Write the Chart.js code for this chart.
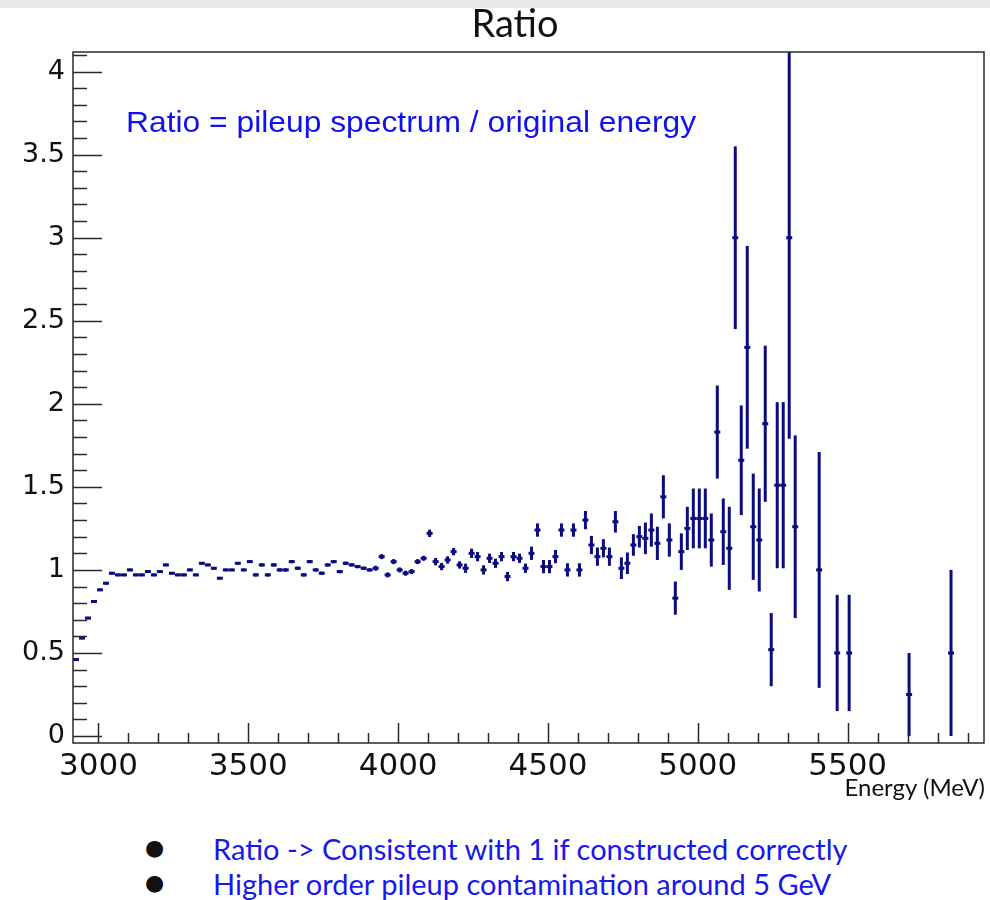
<!DOCTYPE html>
<html>
<head>
<meta charset="utf-8">
<script src="https://cdn.jsdelivr.net/npm/chart.js@4"></script>
<style>
  body { margin: 0; width: 990px; height: 900px; background: #fff; position: relative; overflow: hidden; font-family: Lato, sans-serif; }
  #topbar { position: absolute; left: 0; top: 0; width: 990px; height: 8px; background: #e8eaed; }
  #title { position: absolute; left: 0; width: 1030px; top: -1px; text-align: center; font-size: 38px; color: #111; }
  #wrap { position: absolute; left: 0; top: 0; width: 990px; height: 800px; }
  #note { position: absolute; left: 126px; top: 105px; font-family: "Liberation Sans", Arial, sans-serif; font-size: 30px; color: #1010f0; transform: scaleX(1.06); transform-origin: left top; white-space: nowrap; }
  #xlabel { position: absolute; right: 5px; top: 772px; font-size: 24px; color: #111; }
  .row { position: absolute; left: 0; font-size: 29px; color: #1818ec; white-space: nowrap; }
  .row .dot { position: absolute; left: 145px; top: -1px; font-family: "DejaVu Sans", sans-serif; font-size: 22px; line-height: 36px; color: #111; }
  .row .txt { position: absolute; left: 213px; }
</style>
</head>
<body>
<div id="topbar"></div>
<div id="wrap"><canvas id="ratio-chart" width="990" height="800"></canvas></div>
<div id="title">Ratio</div>
<div id="note">Ratio = pileup spectrum / original energy</div>
<div id="xlabel">Energy (MeV)</div>
<div class="row" style="top:831px"><span class="dot">●</span><span class="txt">Ratio -&gt; Consistent with 1 if constructed correctly</span></div>
<div class="row" style="top:866px"><span class="dot">●</span><span class="txt">Higher order pileup contamination around 5 GeV</span></div>
<script>
// bin centres (MeV), 20 MeV bins; empty bins left out
const energy = [
  2925, 2945, 2965, 2985, 3005, 3025, 3045, 3065, 3085, 3105,
  3125, 3145, 3165, 3185, 3205, 3225, 3245, 3265, 3285, 3305,
  3325, 3345, 3365, 3385, 3405, 3425, 3445, 3465, 3485, 3505,
  3525, 3545, 3565, 3585, 3605, 3625, 3645, 3665, 3685, 3705,
  3725, 3745, 3765, 3785, 3805, 3825, 3845, 3865, 3885, 3905,
  3925, 3945, 3965, 3985, 4005, 4025, 4045, 4065, 4085, 4105,
  4125, 4145, 4165, 4185, 4205, 4225, 4245, 4265, 4285, 4305,
  4325, 4345, 4365, 4385, 4405, 4425, 4445, 4465, 4485, 4505,
  4525, 4545, 4565, 4585, 4605, 4625, 4645, 4665, 4685, 4705,
  4725, 4745, 4765, 4785, 4805, 4825, 4845, 4865, 4885, 4905,
  4925, 4945, 4965, 4985, 5005, 5025, 5045, 5065, 5085, 5105,
  5125, 5145, 5165, 5185, 5205, 5225, 5245, 5265, 5285, 5305, 5325,
  5405, 5465, 5505, 5705, 5845
];
const ratio = [
  0.46, 0.59, 0.71, 0.81, 0.88, 0.92, 0.98, 0.97, 0.97, 1.00,
  0.97, 0.97, 0.99, 0.97, 0.99, 1.03, 0.98, 0.97, 0.97, 1.00,
  0.97, 1.04, 1.03, 1.01, 0.95, 1.00, 1.00, 1.04, 1.00, 1.05,
  0.97, 1.03, 0.97, 1.03, 1.00, 1.00, 1.05, 1.01, 0.97, 1.05,
  1.00, 0.98, 1.03, 1.05, 0.99, 1.04, 1.03, 1.02, 1.01, 1.00,
  1.01, 1.08, 0.97, 1.05, 1.00, 0.98, 0.99, 1.05, 1.07, 1.22,
  1.05, 1.02, 1.06, 1.11, 1.03, 1.01, 1.10, 1.08, 1.00, 1.07,
  1.04, 1.08, 0.96, 1.08, 1.07, 1.01, 1.10, 1.24, 1.02, 1.02,
  1.08, 1.24, 1.00, 1.24, 1.00, 1.30, 1.15, 1.08, 1.13, 1.08,
  1.29, 1.01, 1.04, 1.15, 1.20, 1.19, 1.24, 1.16, 1.44, 1.18,
  0.83, 1.11, 1.25, 1.31, 1.31, 1.31, 1.18, 1.83, 1.23, 1.13,
  3.00, 1.66, 2.34, 1.26, 1.18, 1.88, 0.52, 1.51, 1.51, 3.00, 1.26,
  1.00, 0.50, 0.50, 0.25, 0.50
];
const ratioErr = [
  0.008, 0.008, 0.008, 0.008, 0.008, 0.008, 0.008, 0.008, 0.008, 0.008,
  0.008, 0.008, 0.008, 0.008, 0.008, 0.008, 0.008, 0.008, 0.008, 0.008,
  0.008, 0.008, 0.008, 0.008, 0.008, 0.008, 0.008, 0.008, 0.008, 0.008,
  0.010, 0.010, 0.010, 0.010, 0.010, 0.010, 0.010, 0.010, 0.010, 0.010,
  0.010, 0.010, 0.010, 0.010, 0.010, 0.010, 0.010, 0.010, 0.010, 0.010,
  0.015, 0.015, 0.015, 0.015, 0.015, 0.015, 0.015, 0.015, 0.015, 0.022,
  0.022, 0.022, 0.022, 0.022, 0.022, 0.028, 0.028, 0.028, 0.028, 0.028,
  0.028, 0.028, 0.028, 0.028, 0.028, 0.028, 0.040, 0.040, 0.040, 0.040,
  0.040, 0.040, 0.040, 0.040, 0.040, 0.055, 0.055, 0.055, 0.055, 0.055,
  0.065, 0.065, 0.065, 0.065, 0.065, 0.095, 0.10, 0.10, 0.13, 0.10,
  0.10, 0.11, 0.13, 0.18, 0.18, 0.18, 0.16, 0.28, 0.20, 0.25,
  0.55, 0.33, 0.61, 0.32, 0.31, 0.47, 0.22, 0.50, 0.50, 1.21, 0.55,
  0.71, 0.35, 0.35, 0.25, 0.50
];
const xTickLabels = [3000, 3500, 4000, 4500, 5000, 5500];
const yTickLabels = [0, 0.5, 1, 1.5, 2, 2.5, 3, 3.5, 4];

const MARK = '#0c0c7e';
const FRAME = '#2a2a2a';

// vertical error bars, drawn under the bin markers
const errorBars = {
  id: 'errorBars',
  beforeDatasetsDraw(chart) {
    const { ctx, chartArea: a, scales: { x, y } } = chart;
    ctx.save();
    ctx.beginPath();
    ctx.rect(a.left, a.top, a.right - a.left, a.bottom - a.top);
    ctx.clip();
    ctx.strokeStyle = MARK;
    ctx.lineWidth = 3;
    energy.forEach((e, i) => {
      const px = x.getPixelForValue(e);
      ctx.beginPath();
      ctx.moveTo(px, y.getPixelForValue(ratio[i] - ratioErr[i]));
      ctx.lineTo(px, y.getPixelForValue(ratio[i] + ratioErr[i]));
      ctx.stroke();
    });
    ctx.restore();
  }
};

// ROOT style frame with inward ticks
const rootFrame = {
  id: 'rootFrame',
  afterDraw(chart) {
    const { ctx, chartArea: a, scales: { x, y } } = chart;
    ctx.save();
    ctx.strokeStyle = FRAME;
    ctx.lineWidth = 1.5;
    ctx.strokeRect(a.left, a.top, a.right - a.left, a.bottom - a.top);
    ctx.beginPath();
    for (let i = 0; i <= 41; i++) {
      const py = Math.round(y.getPixelForValue(i / 10)) + 0.5;
      const len = i % 5 == 0 ? 29 : 14;
      ctx.moveTo(a.left, py);
      ctx.lineTo(a.left + len, py);
    }
    for (let e = 3000; e <= 5900; e += 100) {
      const px = Math.round(x.getPixelForValue(e)) + 0.5;
      const len = e % 500 == 0 ? 20 : 10;
      ctx.moveTo(px, a.bottom);
      ctx.lineTo(px, a.bottom - len);
    }
    ctx.stroke();
    ctx.restore();
  }
};

new Chart(document.getElementById('ratio-chart'), {
  type: 'scatter',
  data: {
    datasets: [{
      label: 'Ratio',
      data: energy.map((e, i) => ({ x: e, y: ratio[i] })),
      pointStyle: 'line',
      pointRadius: 3,
      pointHoverRadius: 3,
      borderWidth: 3,
      borderColor: MARK,
      backgroundColor: MARK
    }]
  },
  options: {
    responsive: false,
    animation: false,
    layout: { padding: { top: 52, right: 5, left: 0, bottom: 0 } },
    plugins: { legend: { display: false }, tooltip: { enabled: false } },
    scales: {
      x: {
        type: 'linear', min: 2915, max: 5955,
        grid: { display: false, drawTicks: false },
        border: { display: false },
        afterBuildTicks: s => { s.ticks = xTickLabels.map(v => ({ value: v })) },
        afterFit: s => { s.height = 57 },
        ticks: {
          font: { family: 'DejaVu Sans', size: 31 }, color: '#111',
          padding: 5, maxRotation: 0, autoSkip: false,
          callback: v => String(v)
        }
      },
      y: {
        min: -0.042, max: 4.118,
        grid: { display: false, drawTicks: false },
        border: { display: false },
        afterBuildTicks: s => { s.ticks = yTickLabels.map(v => ({ value: v })) },
        afterFit: s => { s.width = 73 },
        ticks: {
          font: { family: 'DejaVu Sans', size: 27 }, color: '#111',
          padding: 8, autoSkip: false,
          callback: v => String(v)
        }
      }
    }
  },
  plugins: [errorBars, rootFrame]
});
</script>
</body>
</html>
